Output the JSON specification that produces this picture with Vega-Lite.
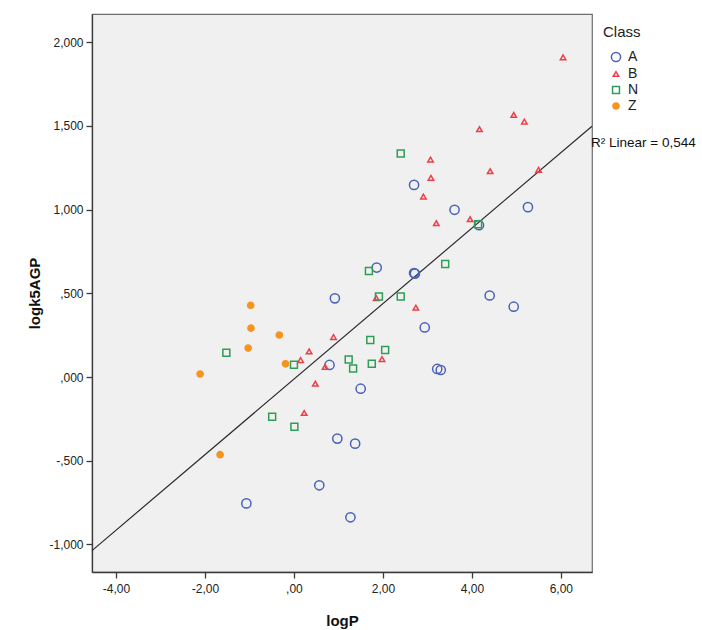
{
  "$schema": "https://vega.github.io/schema/vega-lite/v6.json",
  "autosize": "none",
  "width": 500,
  "height": 558,
  "padding": {"left": 92, "top": 14, "right": 110, "bottom": 58},
  "background": "white",
  "datasets": {
    "compounds": [
      {"logP": 2.70, "logk5AGP": 1.148, "Class": "A"},
      {"logP": 3.61, "logk5AGP": 0.999, "Class": "A"},
      {"logP": 5.26, "logk5AGP": 1.015, "Class": "A"},
      {"logP": 4.16, "logk5AGP": 0.907, "Class": "A"},
      {"logP": 1.86, "logk5AGP": 0.654, "Class": "A"},
      {"logP": 2.70, "logk5AGP": 0.621, "Class": "A"},
      {"logP": 2.72, "logk5AGP": 0.618, "Class": "A"},
      {"logP": 0.92, "logk5AGP": 0.470, "Class": "A"},
      {"logP": 4.40, "logk5AGP": 0.487, "Class": "A"},
      {"logP": 4.94, "logk5AGP": 0.420, "Class": "A"},
      {"logP": 2.94, "logk5AGP": 0.296, "Class": "A"},
      {"logP": 0.80, "logk5AGP": 0.072, "Class": "A"},
      {"logP": 3.22, "logk5AGP": 0.048, "Class": "A"},
      {"logP": 3.30, "logk5AGP": 0.042, "Class": "A"},
      {"logP": 1.50, "logk5AGP": -0.070, "Class": "A"},
      {"logP": 0.975, "logk5AGP": -0.368, "Class": "A"},
      {"logP": 1.375, "logk5AGP": -0.398, "Class": "A"},
      {"logP": 1.27, "logk5AGP": -0.838, "Class": "A"},
      {"logP": 0.57, "logk5AGP": -0.647, "Class": "A"},
      {"logP": -1.07, "logk5AGP": -0.755, "Class": "A"},
      {"logP": 6.05, "logk5AGP": 1.910, "Class": "B"},
      {"logP": 4.94, "logk5AGP": 1.566, "Class": "B"},
      {"logP": 5.18, "logk5AGP": 1.526, "Class": "B"},
      {"logP": 4.17, "logk5AGP": 1.481, "Class": "B"},
      {"logP": 3.07, "logk5AGP": 1.299, "Class": "B"},
      {"logP": 4.41, "logk5AGP": 1.230, "Class": "B"},
      {"logP": 5.50, "logk5AGP": 1.238, "Class": "B"},
      {"logP": 3.08, "logk5AGP": 1.190, "Class": "B"},
      {"logP": 2.91, "logk5AGP": 1.078, "Class": "B"},
      {"logP": 3.20, "logk5AGP": 0.919, "Class": "B"},
      {"logP": 3.96, "logk5AGP": 0.943, "Class": "B"},
      {"logP": 1.85, "logk5AGP": 0.472, "Class": "B"},
      {"logP": 2.74, "logk5AGP": 0.414, "Class": "B"},
      {"logP": 0.89, "logk5AGP": 0.239, "Class": "B"},
      {"logP": 1.98, "logk5AGP": 0.107, "Class": "B"},
      {"logP": 0.34, "logk5AGP": 0.153, "Class": "B"},
      {"logP": 0.15, "logk5AGP": 0.101, "Class": "B"},
      {"logP": 0.70, "logk5AGP": 0.061, "Class": "B"},
      {"logP": 0.48, "logk5AGP": -0.040, "Class": "B"},
      {"logP": 0.23, "logk5AGP": -0.215, "Class": "B"},
      {"logP": 2.40, "logk5AGP": 1.335, "Class": "N"},
      {"logP": 4.14, "logk5AGP": 0.913, "Class": "N"},
      {"logP": 1.685, "logk5AGP": 0.633, "Class": "N"},
      {"logP": 3.40, "logk5AGP": 0.675, "Class": "N"},
      {"logP": 1.91, "logk5AGP": 0.481, "Class": "N"},
      {"logP": 2.40, "logk5AGP": 0.481, "Class": "N"},
      {"logP": 1.716, "logk5AGP": 0.221, "Class": "N"},
      {"logP": 2.05, "logk5AGP": 0.161, "Class": "N"},
      {"logP": 1.23, "logk5AGP": 0.105, "Class": "N"},
      {"logP": 1.75, "logk5AGP": 0.079, "Class": "N"},
      {"logP": 1.33, "logk5AGP": 0.051, "Class": "N"},
      {"logP": -1.52, "logk5AGP": 0.145, "Class": "N"},
      {"logP": 0.00, "logk5AGP": 0.073, "Class": "N"},
      {"logP": -0.49, "logk5AGP": -0.237, "Class": "N"},
      {"logP": 0.01, "logk5AGP": -0.297, "Class": "N"},
      {"logP": -0.973, "logk5AGP": 0.428, "Class": "Z"},
      {"logP": -0.966, "logk5AGP": 0.292, "Class": "Z"},
      {"logP": -0.33, "logk5AGP": 0.251, "Class": "Z"},
      {"logP": -1.03, "logk5AGP": 0.173, "Class": "Z"},
      {"logP": -0.19, "logk5AGP": 0.079, "Class": "Z"},
      {"logP": -2.11, "logk5AGP": 0.018, "Class": "Z"},
      {"logP": -1.66, "logk5AGP": -0.464, "Class": "Z"}
    ],
    "fitNote": [
      {"logP": 6.70, "logk5AGP": 1.399, "label": "R² Linear = 0,544"}
    ]
  },
  "encoding": {
    "x": {
      "field": "logP",
      "type": "quantitative",
      "title": "logP",
      "scale": {"domain": [-4.54, 6.70], "nice": false, "zero": false},
      "axis": {
        "values": [-4, -2, 0, 2, 4, 6],
        "labelExpr": "replace(replace(replace(format(datum.value, '.2f'), '\u2212', '-'), '.', ','), regexp('^(-?)0,'), '$1,')",
        "labelPadding": 5,
        "titlePadding": 19
      }
    },
    "y": {
      "field": "logk5AGP",
      "type": "quantitative",
      "title": "logk5AGP",
      "scale": {"domain": [-1.165, 2.169], "nice": false, "zero": false},
      "axis": {
        "values": [-1, -0.5, 0, 0.5, 1, 1.5, 2],
        "labelExpr": "replace(replace(replace(format(datum.value, '.3f'), '\u2212', '-'), '.', ','), regexp('^(-?)0,'), '$1,')",
        "labelPadding": 3,
        "titlePadding": 6
      }
    }
  },
  "layer": [
    {
      "data": {"name": "compounds"},
      "transform": [
        {"regression": "logk5AGP", "on": "logP", "extent": [-4.54, 6.70]}
      ],
      "mark": {"type": "line", "color": "#2b2b2b", "strokeWidth": 1.2}
    },
    {
      "data": {"name": "compounds"},
      "mark": {"type": "point", "strokeWidth": 1.5, "opacity": 1},
      "encoding": {
        "shape": {
          "field": "Class",
          "type": "nominal",
          "scale": {"domain": ["A", "B", "N", "Z"], "range": ["circle", "triangle-up", "square", "circle"]},
          "legend": {"title": "Class"}
        },
        "stroke": {
          "field": "Class",
          "type": "nominal",
          "scale": {"domain": ["A", "B", "N", "Z"], "range": ["#4a62b8", "#ec3f47", "#2e9d55", "#f7941d"]},
          "legend": {"title": "Class"}
        },
        "fill": {
          "field": "Class",
          "type": "nominal",
          "scale": {"domain": ["A", "B", "N", "Z"], "range": ["transparent", "transparent", "transparent", "#f7941d"]},
          "legend": {"title": "Class"}
        },
        "size": {
          "field": "Class",
          "type": "nominal",
          "scale": {"type": "ordinal", "domain": ["A", "B", "N", "Z"], "range": [85, 30, 48, 38]},
          "legend": {"title": "Class"}
        }
      }
    },
    {
      "data": {"name": "fitNote"},
      "mark": {"type": "text", "align": "left", "baseline": "middle", "dx": -1, "fontSize": 13.5, "font": "Liberation Sans", "color": "#111111", "clip": false},
      "encoding": {"text": {"field": "label"}}
    }
  ],
  "config": {
    "font": "Liberation Sans",
    "view": {"fill": "#f0f0f0", "stroke": "#6e6e6e", "strokeWidth": 1.2},
    "axis": {
      "grid": false,
      "domainColor": "#3a3a3a",
      "domainWidth": 1.3,
      "tickColor": "#3a3a3a",
      "tickWidth": 1.3,
      "tickSize": 6,
      "labelFont": "Liberation Sans",
      "labelFontSize": 12,
      "labelColor": "#222222",
      "titleFont": "Liberation Sans",
      "titleFontSize": 15,
      "titleFontWeight": "bold",
      "titleColor": "#111111"
    },
    "legend": {
      "orient": "none",
      "legendX": 511,
      "legendY": 11,
      "titleFont": "Liberation Sans",
      "titleFontSize": 15,
      "titleFontWeight": "normal",
      "titleColor": "#222222",
      "labelFont": "Liberation Sans",
      "labelFontSize": 14,
      "labelColor": "#222222",
      "rowPadding": 2,
      "symbolOffset": 6,
      "labelOffset": 5,
      "symbolStrokeWidth": 1.5,
      "padding": 0,
      "titlePadding": 10
    }
  }
}
